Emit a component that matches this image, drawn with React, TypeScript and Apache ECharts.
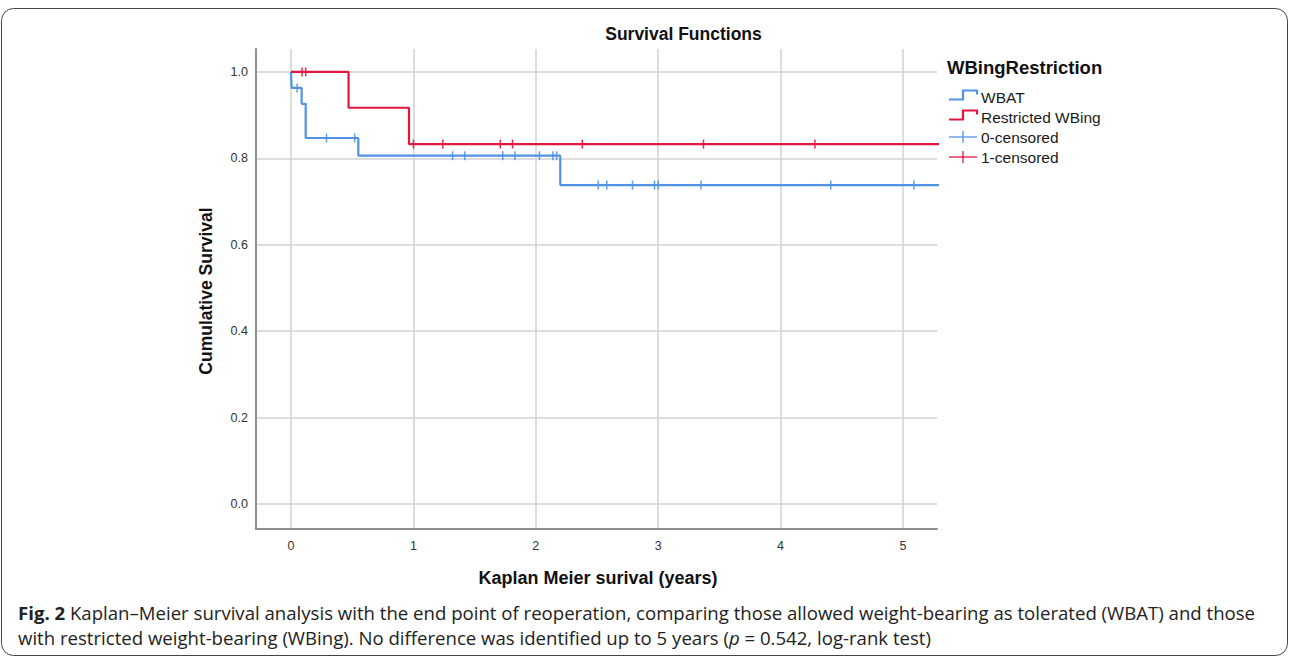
import React, { useEffect, useRef } from "react";
import * as echarts from "echarts";

// ---- data ----
const xTickValues = [0, 1, 2, 3, 4, 5];
const yTickValues = [0.0, 0.2, 0.4, 0.6, 0.8, 1.0];

const wbatTimes = [0, 0.005, 0.087, 0.12, 0.55, 2.2, 5.3];
const wbatSurv = [1, 0.963, 0.926, 0.847, 0.806, 0.738, 0.738];

const restrictedTimes = [0, 0.47, 0.964, 5.3];
const restrictedSurv = [1, 0.917, 0.833, 0.833];

const wbatCensorTimes = [0.05, 0.29, 0.52, 1.32, 1.42, 1.73, 1.83, 2.03, 2.14, 2.17, 2.51, 2.58, 2.79, 2.97, 3.0, 3.35, 4.41, 5.09];
const wbatCensorSurv = [0.963, 0.847, 0.847, 0.806, 0.806, 0.806, 0.806, 0.806, 0.806, 0.806, 0.738, 0.738, 0.738, 0.738, 0.738, 0.738, 0.738, 0.738];

const restrictedCensorTimes = [0.09, 0.12, 1.0, 1.24, 1.71, 1.81, 2.38, 3.37, 4.28];
const restrictedCensorSurv = [1, 1, 0.833, 0.833, 0.833, 0.833, 0.833, 0.833, 0.833];

const seriesNames = ["WBAT", "Restricted WBing", "0-censored", "1-censored"];
const legendTitle = "WBingRestriction";
const chartTitle = "Survival Functions";
const xTitle = "Kaplan Meier surival (years)";
const yTitle = "Cumulative Survival";

const BLUE = "#4f93e2";
const RED = "#e2173f";
const FONT = "'Liberation Sans', Arial, sans-serif";
const CAP_FONT = "'Open Sans', 'Noto Sans', sans-serif";
const CAP_SIZE = 18.6;

const zip = (a: number[], b: number[]) => a.map((v, i) => [v, b[i]]);

const isOnGrid = (v: number, list: number[]) => list.some((t) => Math.abs(t - v) < 1e-6);

export default function App() {
  const ref = useRef<HTMLDivElement>(null);

  useEffect(() => {
    if (!ref.current) return;
    const chart = echarts.init(ref.current, undefined, { renderer: "svg" });

    const legendX = 949;
    const legendTextX = 981;
    const rows = [97, 117, 137, 157];

    const stepIcon = (y: number, color: string) => ({
      type: "polyline",
      shape: {
        points: [
          [legendX, y + 2.5],
          [legendX + 14, y + 2.5],
          [legendX + 14, y - 6.5],
          [legendX + 28, y - 6.5],
          [legendX + 28, y - 2.5],
        ],
      },
      style: { stroke: color, lineWidth: 2.2, fill: "none" },
    });
    const censorIcon = (y: number, color: string) => ({
      type: "group",
      children: [
        { type: "line", shape: { x1: legendX, y1: y, x2: legendX + 28, y2: y }, style: { stroke: color, lineWidth: 1.3 } },
        { type: "line", shape: { x1: legendX + 14, y1: y - 6, x2: legendX + 14, y2: y + 6 }, style: { stroke: color, lineWidth: 1.3 } },
      ],
    });
    const legendText = (y: number, t: string) => ({
      type: "text",
      style: { x: legendTextX, y, text: t, fill: "#1a1a1a", font: `15.5px ${FONT}`, align: "left", verticalAlign: "middle" },
    });

    const option: any = {
      animation: false,
      backgroundColor: "#ffffff",
      grid: { left: 256, right: 353, top: 49, bottom: 131 },
      xAxis: {
        type: "value",
        min: -0.286,
        max: 5.278,
        splitNumber: 5,
        axisLine: { show: true, onZero: false, lineStyle: { color: "#8f8f8f", width: 2 } },
        axisTick: { show: false },
        axisLabel: {
          color: "#333",
          fontSize: 12.5,
          fontFamily: FONT,
          margin: 10,
          formatter: (v: number) => (isOnGrid(v, xTickValues) ? String(Math.round(v)) : ""),
        },
        splitLine: { show: true, showMinLine: false, showMaxLine: false, lineStyle: { color: "#d2d2d2", width: 1.5 } },
      },
      yAxis: {
        type: "value",
        min: -0.058,
        max: 1.053,
        splitNumber: 5,
        axisLine: { show: true, onZero: false, lineStyle: { color: "#8f8f8f", width: 2 } },
        axisTick: { show: false },
        axisLabel: {
          color: "#333",
          fontSize: 12.5,
          fontFamily: FONT,
          margin: 8,
          formatter: (v: number) => (isOnGrid(v, yTickValues) ? v.toFixed(1) : ""),
        },
        splitLine: { show: true, showMinLine: false, showMaxLine: false, lineStyle: { color: "#d2d2d2", width: 1.5 } },
      },
      series: [
        {
          name: seriesNames[0],
          type: "line",
          step: "end",
          data: zip(wbatTimes, wbatSurv),
          symbol: "none",
          lineStyle: { color: BLUE, width: 2.2 },
          z: 3,
        },
        {
          name: seriesNames[1],
          type: "line",
          step: "end",
          data: zip(restrictedTimes, restrictedSurv),
          symbol: "none",
          lineStyle: { color: RED, width: 2.2 },
          z: 4,
        },
        {
          name: seriesNames[2],
          type: "scatter",
          data: zip(wbatCensorTimes, wbatCensorSurv),
          symbol: "rect",
          symbolSize: [1.5, 9],
          itemStyle: { color: BLUE, opacity: 0.9 },
          z: 5,
        },
        {
          name: seriesNames[3],
          type: "scatter",
          data: zip(restrictedCensorTimes, restrictedCensorSurv),
          symbol: "rect",
          symbolSize: [1.5, 9],
          itemStyle: { color: RED, opacity: 0.9 },
          z: 6,
        },
      ],
      graphic: [
        {
          type: "rect",
          shape: { x: 1.5, y: 8.5, width: 1286, height: 647, r: 12 },
          style: { fill: "none", stroke: "#444", lineWidth: 1 },
          silent: true,
        },
        {
          type: "text",
          style: { x: 683.5, y: 34, text: chartTitle, fill: "#111", font: `bold 17.5px ${FONT}`, align: "center", verticalAlign: "middle" },
        },
        {
          type: "text",
          x: 206,
          y: 291,
          rotation: Math.PI / 2,
          style: { x: 0, y: 0, text: yTitle, fill: "#111", font: `bold 17.5px ${FONT}`, align: "center", verticalAlign: "middle" },
        },
        {
          type: "text",
          style: { x: 598, y: 578, text: xTitle, fill: "#111", font: `bold 18px ${FONT}`, align: "center", verticalAlign: "middle" },
        },
        {
          type: "text",
          style: { x: 947, y: 67, text: legendTitle, fill: "#111", font: `bold 18.5px ${FONT}`, align: "left", verticalAlign: "middle" },
        },
        stepIcon(rows[0], BLUE),
        legendText(rows[0], seriesNames[0]),
        stepIcon(rows[1], RED),
        legendText(rows[1], seriesNames[1]),
        censorIcon(rows[2], BLUE),
        legendText(rows[2], seriesNames[2]),
        censorIcon(rows[3], RED),
        legendText(rows[3], seriesNames[3]),
        {
          type: "text",
          style: {
            x: 18,
            y: 612,
            text: "{b|Fig. 2} Kaplan–Meier survival analysis with the end point of reoperation, comparing those allowed weight-bearing as tolerated (WBAT) and those",
            fill: "#222",
            font: `${CAP_SIZE}px ${CAP_FONT}`,
            align: "left",
            verticalAlign: "middle",
            rich: {
              b: { fontWeight: "bold", fontSize: CAP_SIZE, fontFamily: CAP_FONT, fill: "#222" },
            },
          },
        },
        {
          type: "text",
          style: {
            x: 18,
            y: 637,
            text: "with restricted weight-bearing (WBing). No difference was identified up to 5 years ({i|p} = 0.542, log-rank test)",
            fill: "#222",
            font: `${CAP_SIZE}px ${CAP_FONT}`,
            align: "left",
            verticalAlign: "middle",
            rich: {
              i: { fontStyle: "italic", fontSize: CAP_SIZE, fontFamily: CAP_FONT, fill: "#222" },
            },
          },
        },
      ],
    };

    chart.setOption(option);
    return () => chart.dispose();
  }, []);

  return (
    <div
      ref={ref}
      style={{ position: "fixed", left: 0, top: 0, width: 1290, height: 660, background: "#fff" }}
    />
  );
}
